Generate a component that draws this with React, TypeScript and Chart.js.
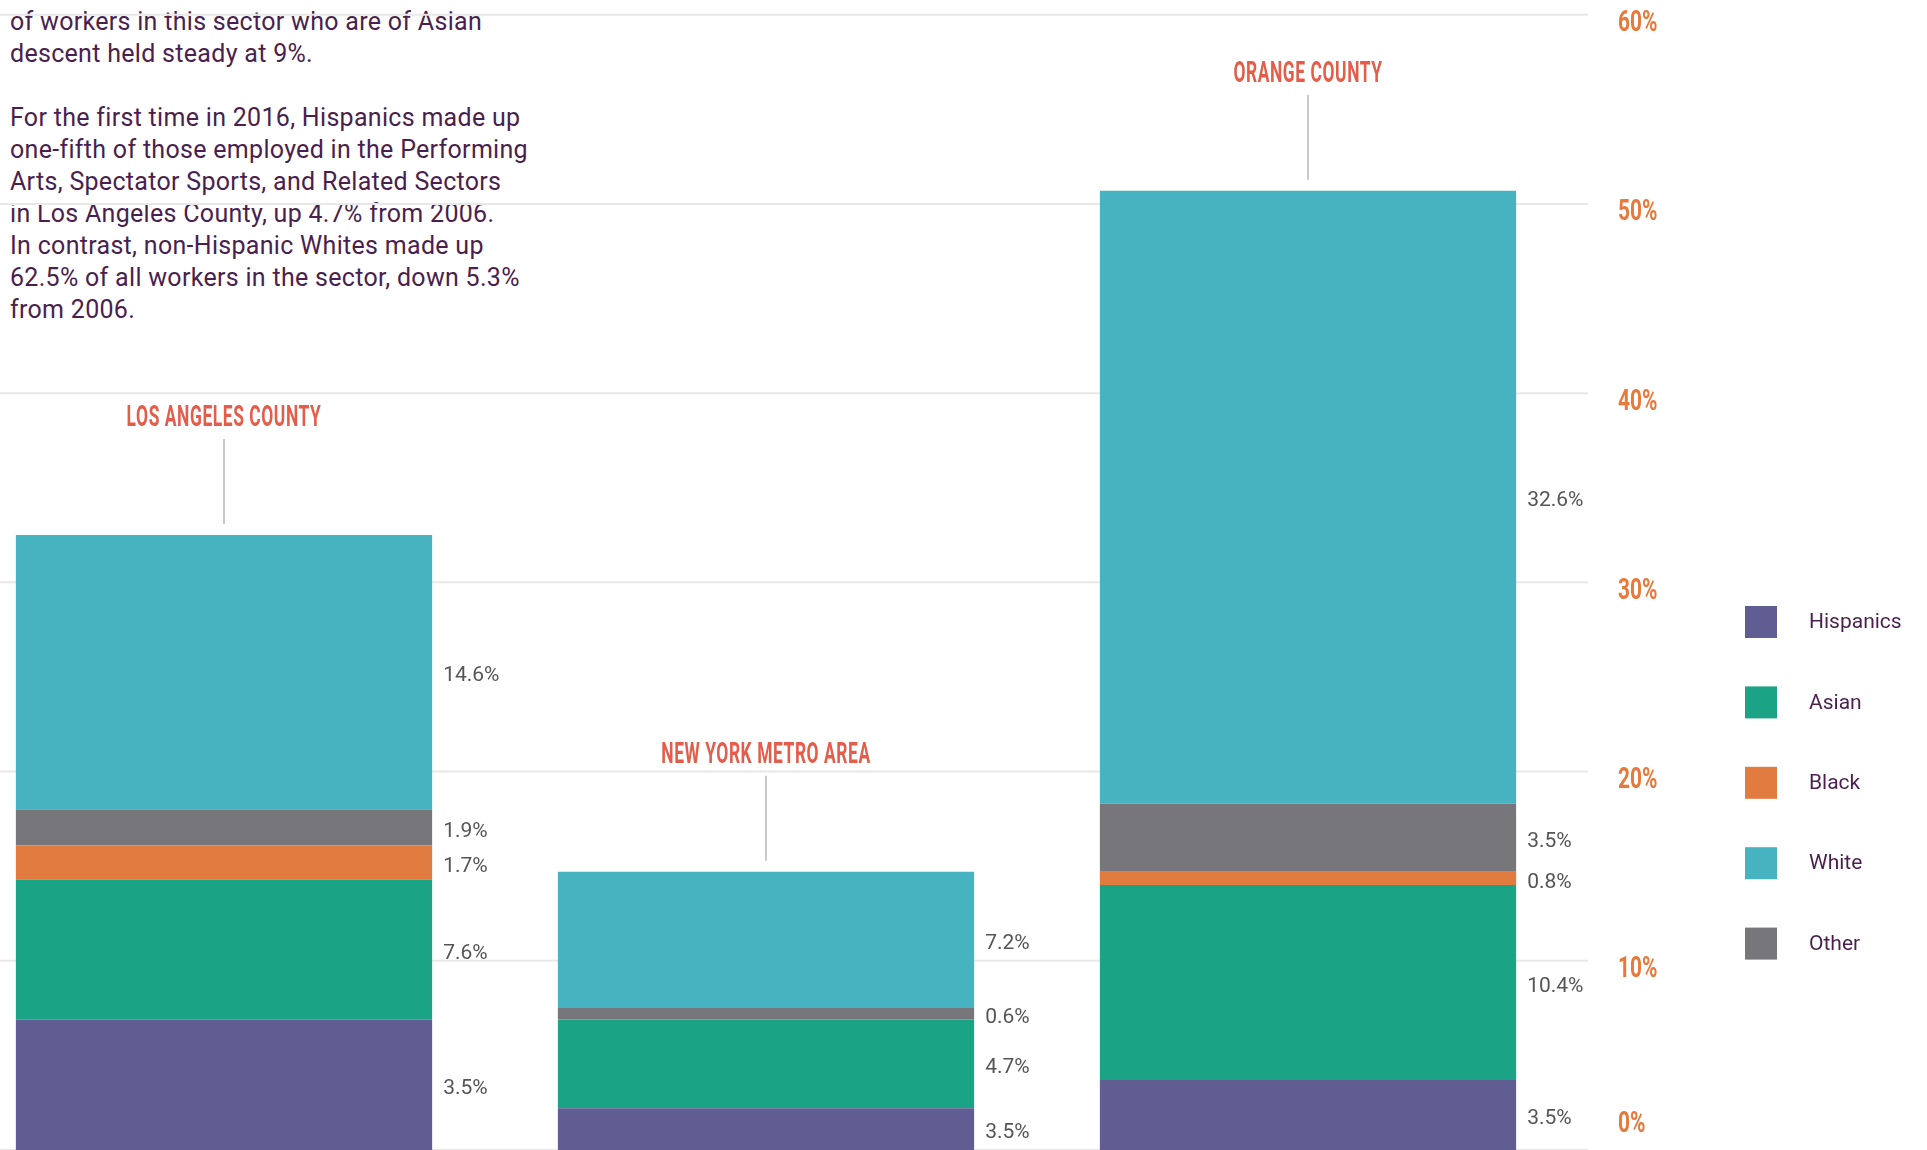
import React, { useEffect, useRef } from 'react';
import { Chart, registerables } from 'chart.js';

Chart.register(...registerables);

// ---- data ----
const categories = ['LOS ANGELES COUNTY', 'NEW YORK METRO AREA', 'ORANGE COUNTY'];
const hispanics = [6.9, 2.2, 3.7];
const asian = [7.4, 4.7, 10.3];
const black = [1.8, 0, 0.7];
const other = [1.9, 0.6, 3.6];
const white = [14.5, 7.2, 32.4];

const hispanicsLabels = ['3.5%', '3.5%', '3.5%'];
const asianLabels = ['7.6%', '4.7%', '10.4%'];
const blackLabels = ['1.7%', '', '0.8%'];
const otherLabels = ['1.9%', '0.6%', '3.5%'];
const whiteLabels = ['14.6%', '7.2%', '32.6%'];

const legendOrder = ['Hispanics', 'Asian', 'Black', 'White', 'Other'];
const yTicks = [0, 10, 20, 30, 40, 50, 60];

const paragraphLines = [
  'of workers in this sector who are of Asian',
  'descent held steady at 9%.',
  '',
  'For the first time in 2016, Hispanics made up',
  'one-fifth of those employed in the Performing',
  'Arts, Spectator Sports, and Related Sectors',
  'in Los Angeles County, up 4.7% from 2006.',
  'In contrast, non-Hispanic Whites made up',
  '62.5% of all workers in the sector, down 5.3%',
  'from 2006.',
];

const COLORS: Record<string, string> = {
  Hispanics: '#605d93',
  Asian: '#1ba386',
  Black: '#e27b3f',
  White: '#47b3c1',
  Other: '#77777b',
};

const W = 1927;
const H = 1150;

const overlayPlugin = {
  id: 'overlay',
  beforeDatasetsDraw(chart: any) {
    const ctx = chart.ctx;
    const y = chart.scales.y;
    ctx.save();
    ctx.strokeStyle = '#e8e8e8';
    ctx.lineWidth = 2;
    for (const t of yTicks) {
      const py = y.getPixelForValue(t);
      ctx.beginPath();
      ctx.moveTo(0, py);
      ctx.lineTo(1588, py);
      ctx.stroke();
    }
    ctx.restore();
  },
  afterDatasetsDraw(chart: any) {
    const ctx = chart.ctx;
    const y = chart.scales.y;
    ctx.save();

    // value labels beside each segment
    ctx.font = '21px Roboto';
    ctx.fillStyle = '#555457';
    ctx.textAlign = 'left';
    ctx.textBaseline = 'middle';
    chart.data.datasets.forEach((ds: any, di: number) => {
      const meta = chart.getDatasetMeta(di);
      meta.data.forEach((el: any, i: number) => {
        const txt = ds.valueLabels[i];
        if (!txt) return;
        const mid = (el.y + el.base) / 2;
        ctx.fillText(txt, el.x + el.width / 2 + 11, mid + 4);
      });
    });

    // category titles + leader lines
    const topMeta = chart.getDatasetMeta(chart.data.datasets.length - 1);
    topMeta.data.forEach((el: any, i: number) => {
      const top = el.y;
      ctx.strokeStyle = '#c9c9c9';
      ctx.lineWidth = 2;
      ctx.beginPath();
      ctx.moveTo(el.x, top - 96);
      ctx.lineTo(el.x, top - 11);
      ctx.stroke();

      ctx.save();
      ctx.translate(el.x, top - 109);
      ctx.scale(0.58, 1);
      ctx.font = 'bold 30px Roboto';
      ctx.fillStyle = '#e35d4a';
      ctx.textAlign = 'center';
      ctx.textBaseline = 'alphabetic';
      (ctx as any).letterSpacing = '1px';
      ctx.fillText(categories[i], 0, 0);
      ctx.restore();
    });

    // y tick labels on the right
    yTicks.forEach((t, k) => {
      const py = y.getPixelForValue(t);
      const base = k === 0 ? py - 18 : py + 16.5;
      ctx.save();
      ctx.translate(1618, base);
      ctx.scale(0.72, 1);
      ctx.font = 'bold 29px Roboto';
      ctx.fillStyle = '#e8793a';
      ctx.textAlign = 'left';
      ctx.textBaseline = 'alphabetic';
      ctx.fillText(t + '%', 0, 0);
      ctx.restore();
    });

    // legend
    ctx.font = '21px Roboto';
    ctx.textAlign = 'left';
    ctx.textBaseline = 'middle';
    legendOrder.forEach((name, k) => {
      const cy = 622 + k * 80.4;
      ctx.fillStyle = COLORS[name];
      ctx.fillRect(1745, cy - 16, 32, 32);
      ctx.fillStyle = '#4a1f4e';
      ctx.fillText(name, 1809, cy + 1);
    });

    ctx.restore();
  },
};

export default function App() {
  const canvasRef = useRef<HTMLCanvasElement | null>(null);

  useEffect(() => {
    if (!canvasRef.current) return;
    const mk = (label: string, data: number[], valueLabels: string[]) => ({
      label,
      data,
      valueLabels,
      backgroundColor: COLORS[label],
      borderWidth: 0,
      barPercentage: 0.768,
      categoryPercentage: 1,
      clip: false,
    });
    const chart = new Chart(canvasRef.current, {
      type: 'bar',
      data: {
        labels: categories,
        datasets: [
          mk('Hispanics', hispanics, hispanicsLabels),
          mk('Asian', asian, asianLabels),
          mk('Black', black, blackLabels),
          mk('Other', other, otherLabels),
          mk('White', white, whiteLabels),
        ] as any,
      },
      options: {
        animation: false,
        responsive: false,
        maintainAspectRatio: false,
        devicePixelRatio: 1,
        layout: { padding: { left: 224, right: W - 1308, top: 14.7, bottom: 0 } },
        plugins: { legend: { display: false }, tooltip: { enabled: false } },
        scales: {
          x: { type: 'category', stacked: true, offset: false, display: false },
          y: { stacked: true, min: 0, max: 60, display: false },
        },
      } as any,
      plugins: [overlayPlugin],
    });
    return () => chart.destroy();
  }, []);

  return (
    <div style={{ position: 'absolute', left: 0, top: 0, width: W, height: H, overflow: 'hidden', background: '#fff' }}>
      <div
        style={{
          position: 'absolute',
          left: 10,
          top: 5.5,
          fontFamily: 'Roboto, sans-serif',
          fontSize: 25,
          letterSpacing: '0.3px',
          lineHeight: '32px',
          color: '#4a1f4e',
          whiteSpace: 'nowrap',
        }}
      >
        {paragraphLines.map((l, i) => (
          <div key={i} style={{ height: 32 }}>{l}</div>
        ))}
      </div>
      <canvas
        ref={canvasRef}
        width={W}
        height={H}
        style={{ position: 'absolute', left: 0, top: 0, width: W, height: H }}
      />
    </div>
  );
}
